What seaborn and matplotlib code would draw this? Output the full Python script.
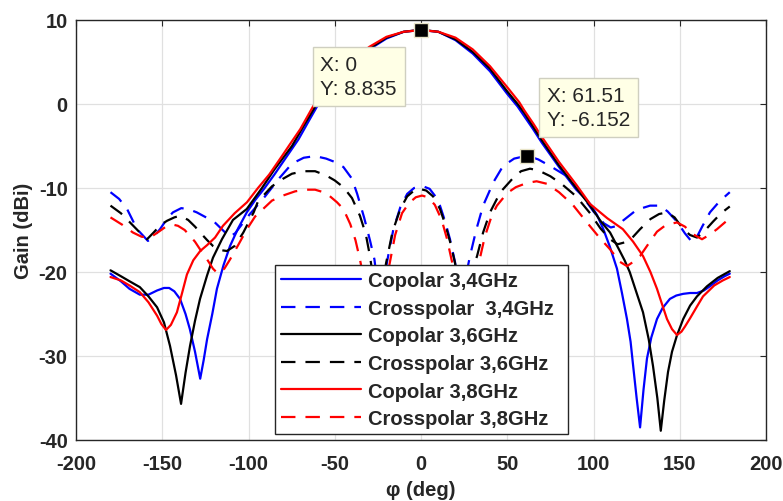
import matplotlib
matplotlib.use("Agg")
import matplotlib.pyplot as plt
import seaborn as sns
import pandas as pd

# ---------------- data ----------------
co34_x = [-180,-174,-169,-163,-158,-153,-149,-146,-143,-139.7,-136.5,-134,-131,-128,-126,-124,-121,-118.3,-114.5,-110.7,-106,-101,-96,-91,-85,-78,-71,-65,-60,-55,-50,-40,-30,-20,-10,0,10,20,30,40,50,56,60,65,70,80,90,94,98,102,105.7,109.5,113.6,116.5,119.4,121.5,123,125,127,129,131,133.5,136.8,140,144.3,148,152,156,160,164,167.5,172,176,179]
co34_y = [-20.2,-21.1,-22.0,-22.7,-22.7,-22.2,-21.9,-21.9,-22.3,-23.2,-25.0,-26.8,-29.5,-32.7,-30.5,-28.0,-25.0,-22.0,-19.2,-16.9,-14.8,-12.9,-11.4,-10.1,-8.4,-6.3,-4.2,-2.0,-0.2,1.3,2.6,4.7,6.5,7.8,8.6,8.8,8.6,7.6,6.0,3.9,1.2,-0.3,-1.5,-3.0,-4.6,-7.5,-10.2,-11.0,-11.9,-13.2,-14.9,-17.0,-19.6,-22.5,-25.6,-28.3,-31.2,-35.0,-38.5,-34.0,-30.3,-27.8,-25.6,-24.3,-23.2,-22.8,-22.6,-22.5,-22.5,-22.2,-21.7,-21.0,-20.5,-20.2]

co36_x = [-180,-174,-169,-163,-158,-153,-149,-145.5,-142,-139.1,-136.5,-133.9,-131,-128.1,-124,-120.6,-115.4,-109,-101,-92.2,-85,-74.8,-68,-61,-55,-50,-40,-30,-20,-10,0,10,20,30,40,50,56,60,65,70,80,90,98,104,109.6,115,118,121,125,128.7,132,134.5,137,139,141,143.2,145.5,148.3,152,156,160,165.8,172,179]
co36_y = [-19.8,-20.5,-21.1,-21.8,-22.9,-24.2,-26.0,-28.8,-32.3,-35.7,-32.0,-28.8,-25.8,-23.2,-20.4,-18.3,-16.1,-13.8,-12.5,-10.0,-7.8,-5.0,-2.6,-0.2,1.5,2.9,4.9,6.6,7.9,8.6,8.835,8.6,7.7,6.2,4.2,1.5,0.0,-1.1,-2.7,-4.3,-7.3,-10.0,-12.1,-13.9,-15.3,-17.4,-18.6,-20.0,-22.5,-24.8,-28.0,-31.2,-35.0,-38.9,-35.3,-31.9,-29.5,-27.6,-25.6,-24.0,-22.9,-21.7,-20.7,-19.9]

co38_x = [-180,-174,-169,-163,-158,-153,-150.5,-147.8,-145,-141.5,-138.5,-135.7,-132,-128,-124,-119.4,-114.8,-108,-100.9,-94.5,-88,-80.6,-76,-70,-62.6,-55,-50,-40,-30,-20,-10,0,10,20,30,40,50,57,60,65,70,80,90,98,108,117,123,128.7,133,136.8,140,142.6,145.5,148.4,151,153,156,160,163.5,170,175,179]
co38_y = [-20.6,-21.0,-21.6,-22.4,-23.6,-25.2,-26.2,-26.9,-26.3,-24.8,-22.5,-20.3,-18.6,-17.5,-16.8,-15.9,-14.5,-13.0,-11.7,-10.0,-8.4,-6.2,-4.8,-3.0,-0.3,2.0,3.3,5.2,6.8,8.0,8.6,8.8,8.6,7.9,6.5,4.5,2.0,0.2,-0.8,-2.3,-3.9,-6.9,-9.6,-11.9,-13.6,-14.9,-16.4,-18.1,-20.0,-22.0,-24.0,-25.6,-26.8,-27.5,-27.1,-26.5,-25.5,-24.1,-22.9,-21.6,-21.0,-20.6]

cx34_x = [-180,-175,-170.4,-164.6,-158.3,-155,-151.3,-147,-143.8,-139,-135,-130,-126.4,-120,-115,-111,-107.8,-100,-90.4,-82,-74.8,-68,-61.4,-55,-50,-45,-40,-37,-33,-29.5,-27,-25.5,-23.5,-21.5,-19.7,-16,-12,-8,-4,1.2,5,8,11,14,16.8,19.7,21.5,23.5,25.5,28.4,32,36,42,47.5,54,61.51,68,75,84.6,92,100,106,110,114,117,125,132.8,138.6,143,148.4,153,157,160,163,167.5,173,179]
cx34_y = [-10.5,-11.3,-12.5,-14.9,-16.3,-15.8,-14.9,-13.6,-12.9,-12.4,-12.5,-12.9,-13.3,-14.0,-15.0,-15.8,-15.4,-13.3,-11.0,-8.8,-7.1,-6.4,-6.2,-6.5,-6.9,-7.5,-8.9,-10.7,-13.5,-16.3,-18.5,-21.0,-32.0,-21.5,-18.8,-14.9,-12.3,-10.7,-10.0,-9.8,-10.1,-10.9,-12.1,-14.0,-16.1,-18.8,-21.5,-32.0,-21.0,-18.1,-15.0,-12.1,-9.3,-7.4,-6.5,-6.152,-6.6,-7.4,-8.6,-10.5,-12.8,-14.2,-14.7,-14.5,-13.9,-12.6,-12.1,-12.1,-12.8,-14.0,-15.4,-16.4,-15.8,-14.6,-12.9,-11.6,-10.5]

cx36_x = [-180,-174,-168.7,-163,-158.8,-155,-151,-147.2,-143,-139.7,-135,-131,-128,-124,-120.6,-116,-112.5,-108,-103,-97,-94.5,-86.4,-80,-74.8,-68,-61.4,-55,-50,-45,-40,-35.4,-32,-29.6,-27.5,-25,-22.5,-20.3,-16.5,-12,-8,-4,-1,3,7,11,14,17,19.8,22,24,26.5,28.5,32.5,36,40,46,53,58,63.2,68,75,82,90,98,104,109.6,114,119.4,123,127,133,138,142.6,147,152,156,160,164,169.3,174,179]
cx36_y = [-12.1,-13.0,-14.1,-15.3,-16.1,-15.3,-14.4,-13.9,-13.5,-13.3,-13.8,-14.6,-15.3,-16.2,-16.9,-17.4,-17.5,-16.9,-15.3,-12.9,-11.6,-9.8,-8.9,-8.3,-8.0,-8.0,-8.5,-9.1,-9.9,-11.2,-13.3,-15.5,-18.1,-21.0,-31.0,-22.0,-19.0,-15.2,-12.5,-11.0,-10.3,-10.1,-10.3,-11.0,-12.5,-14.3,-16.5,-19.0,-23.0,-31.0,-23.0,-20.5,-18.1,-15.3,-12.9,-10.5,-8.9,-8.0,-7.7,-7.9,-8.6,-9.6,-11.0,-13.0,-14.8,-16.1,-16.7,-16.4,-15.8,-14.9,-13.7,-13.1,-12.9,-13.5,-14.9,-15.6,-15.9,-15.2,-14.0,-13.0,-12.2]

cx38_x = [-180,-173,-167,-162,-157.1,-152,-147.2,-143,-140.9,-137,-133.9,-131,-128.1,-124,-120.6,-117.7,-114,-110.7,-106,-100.9,-96.2,-86.4,-80,-73,-67,-61.4,-55,-48.7,-45,-41,-38,-35.4,-33,-30,-27,-24,-21,-18,-15,-11,-7,-3,0.6,4,8,12,15,18,20,23,26,31,34,37,41,44,50,55,61.4,67,73,80,88,95,103,109.6,115.4,119.4,123,127,132,136.8,142,148.4,153,157.7,162.9,167,171.6,175,179]
cx38_y = [-13.5,-14.4,-15.3,-15.8,-15.9,-15.2,-14.5,-14.4,-14.5,-15.0,-15.7,-16.4,-17.3,-18.5,-19.6,-20.2,-19.6,-18.5,-16.8,-14.9,-13.4,-11.5,-10.9,-10.4,-10.2,-10.2,-10.6,-11.7,-12.5,-14.3,-16.2,-18.5,-21.0,-26.0,-35.0,-26.0,-22.0,-18.8,-15.6,-13.0,-11.8,-11.1,-10.9,-11.1,-12.0,-13.8,-16.0,-18.8,-21.0,-27.0,-35.0,-22.0,-18.5,-15.8,-13.3,-12.1,-10.6,-9.9,-9.4,-9.2,-9.5,-10.5,-12.0,-13.8,-15.8,-17.3,-18.8,-19.3,-18.8,-18.1,-16.6,-15.2,-14.4,-14.1,-14.6,-15.5,-16.1,-15.6,-14.9,-14.3,-13.6]

labels = ["Copolar 3,4GHz", "Crosspolar  3,4GHz", "Copolar 3,6GHz",
          "Crosspolar 3,6GHz", "Copolar 3,8GHz", "Crosspolar 3,8GHz"]
colors = ["#0000FF", "#0000FF", "#000000", "#000000", "#FF0000", "#FF0000"]
dashed = [False, True, False, True, False, True]

xticks = [-200, -150, -100, -50, 0, 50, 100, 150, 200]
yticks = [-40, -30, -20, -10, 0, 10]

tip_x = [0, 61.51]
tip_y = [8.835, -6.152]
tip_text = ["X: 0\nY: 8.835", "X: 61.51\nY: -6.152"]

series = [(co34_x, co34_y), (cx34_x, cx34_y), (co36_x, co36_y),
          (cx36_x, cx36_y), (co38_x, co38_y), (cx38_x, cx38_y)]
for sx, sy in series:
    assert len(sx) == len(sy), (len(sx), len(sy))

# ---------------- style ----------------
sns.set_theme(style="white")
plt.rcParams["font.family"] = ["Liberation Sans", "DejaVu Sans"]
plt.rcParams["axes.unicode_minus"] = False

fig = plt.figure(figsize=(7.83, 5.02), dpi=100)
ax = fig.add_axes([76/783, (502-441)/502, 690/783, 420/502])

for (sx, sy), lab, col, dsh in zip(series, labels, colors, dashed):
    df = pd.DataFrame({"phi": sx, "gain": sy})
    ls = (0, (6.5, 4.5)) if dsh else "-"
    sns.lineplot(data=df, x="phi", y="gain", ax=ax, color=col, linestyle=ls,
                 linewidth=1.6, label=lab, sort=False, estimator=None)

ax.set_xlim(-200, 200)
ax.set_ylim(-40, 10)
ax.set_xticks(xticks)
ax.set_yticks(yticks)
ax.grid(True, color="#E0E0E0", linewidth=0.9)
ax.set_axisbelow(True)
for sp in ax.spines.values():
    sp.set_color("#262626")
    sp.set_linewidth(1.0)
ax.tick_params(direction="in", length=4, width=0.8, top=True, right=True,
               colors="#262626", labelsize=14.5)
ax.tick_params(axis="x", pad=10)
ax.tick_params(axis="y", pad=6)
for lab in ax.get_xticklabels() + ax.get_yticklabels():
    lab.set_fontweight("bold")
    lab.set_color("#262626")

ax.set_xlabel("φ (deg)", fontsize=14.5, fontweight="bold", color="#262626", labelpad=5)
ax.set_ylabel("Gain (dBi)", fontsize=14.5, fontweight="bold", color="#262626", labelpad=4)

# data tips
ax.plot(tip_x, tip_y, linestyle="none", marker="s", markersize=10.5,
        markerfacecolor="black", markeredgecolor="#E8E4C8", markeredgewidth=1.0, zorder=6)
tip_pos = [(-58.3, 3.3), (73.0, -0.4)]
for (tx, ty), s in zip(tip_pos, tip_text):
    ax.text(tx, ty, s, ha="left", va="center", fontsize=15, color="#262626",
            linespacing=1.35, zorder=7,
            bbox=dict(boxstyle="square,pad=0.38", fc="#FFFFE6", ec="#CFCFC0", lw=1.0))

leg = ax.legend(loc="upper left", bbox_to_anchor=(0.288, 0.007, 0.425, 0.41),
                mode="expand", borderaxespad=0, frameon=True, fancybox=False,
                framealpha=1, edgecolor="#262626",
                handlelength=4.0, handletextpad=0.35, labelspacing=0.43,
                borderpad=0.3, prop={"weight": "bold", "size": 14.5})
leg.get_frame().set_linewidth(1.0)
for t in leg.get_texts():
    t.set_color("#262626")
leg.set_zorder(5)

fig.savefig("out.png", dpi=100)
